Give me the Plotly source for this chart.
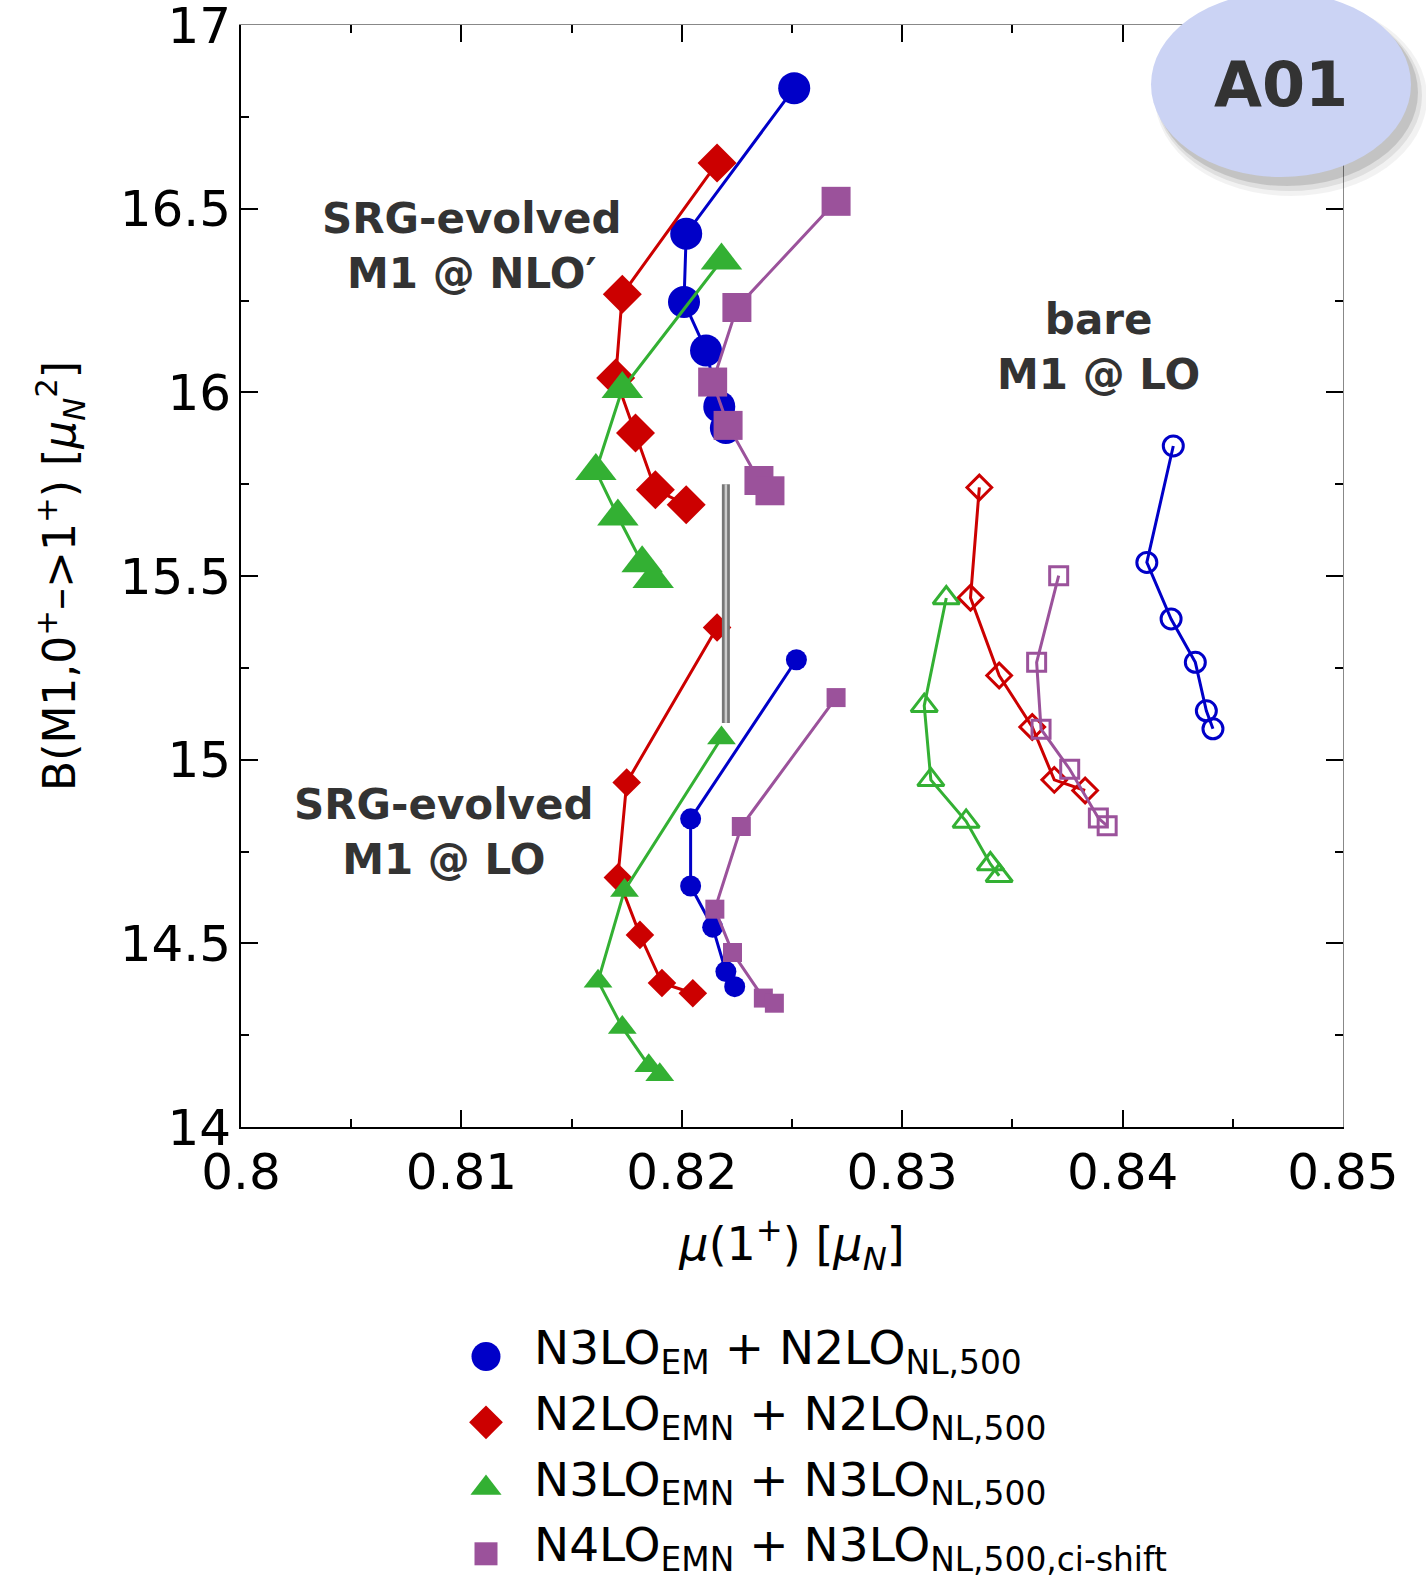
import plotly.graph_objects as go

# ---------------- data ----------------
# SRG-evolved M1 @ NLO' (large filled markers)
nlo_blue_x = [0.8251, 0.8202, 0.8201, 0.8211, 0.8217, 0.8220]
nlo_blue_y = [16.828, 16.432, 16.246, 16.114, 15.961, 15.903]
nlo_red_x = [0.8216, 0.8173, 0.8170, 0.8179, 0.8188, 0.8202]
nlo_red_y = [16.624, 16.267, 16.039, 15.889, 15.735, 15.694]
nlo_green_x = [0.8218, 0.8173, 0.8161, 0.8171, 0.8182, 0.8187]
nlo_green_y = [16.359, 16.009, 15.786, 15.662, 15.535, 15.492]
nlo_purple_x = [0.8270, 0.8225, 0.8214, 0.8221, 0.8235, 0.8240]
nlo_purple_y = [16.520, 16.231, 16.028, 15.910, 15.760, 15.732]

# SRG-evolved M1 @ LO (small filled markers)
lo_blue_x = [0.8252, 0.8204, 0.8204, 0.8214, 0.8220, 0.8224]
lo_blue_y = [15.272, 14.839, 14.656, 14.544, 14.423, 14.382]
lo_red_x = [0.8216, 0.8175, 0.8171, 0.8181, 0.8191, 0.8205]
lo_red_y = [15.360, 14.938, 14.679, 14.523, 14.392, 14.364]
lo_green_x = [0.8218, 0.8174, 0.8162, 0.8173, 0.8185, 0.8190]
lo_green_y = [15.059, 14.644, 14.397, 14.271, 14.167, 14.142]
lo_purple_x = [0.8270, 0.8227, 0.8215, 0.8223, 0.8237, 0.8242]
lo_purple_y = [15.169, 14.818, 14.593, 14.475, 14.351, 14.337]

# bare M1 @ LO (open markers)
bare_blue_x = [0.8423, 0.8411, 0.8422, 0.8433, 0.8438, 0.8441]
bare_blue_y = [15.854, 15.537, 15.383, 15.265, 15.133, 15.084]
bare_red_x = [0.8335, 0.8331, 0.8344, 0.8359, 0.8369, 0.8383]
bare_red_y = [15.741, 15.441, 15.229, 15.089, 14.945, 14.916]
bare_green_x = [0.8320, 0.8310, 0.8313, 0.8329, 0.8340, 0.8344]
bare_green_y = [15.440, 15.147, 14.945, 14.832, 14.716, 14.684]
bare_purple_x = [0.8371, 0.8361, 0.8363, 0.8376, 0.8389, 0.8393]
bare_purple_y = [15.501, 15.265, 15.083, 14.974, 14.841, 14.820]

# grey vertical bar
bar_x = [0.8220, 0.8220]
bar_y = [15.10, 15.75]

legend_labels = [
    "N3LO<sub>EM</sub> + N2LO<sub>NL,500</sub>",
    "N2LO<sub>EMN</sub> + N2LO<sub>NL,500</sub>",
    "N3LO<sub>EMN</sub> + N3LO<sub>NL,500</sub>",
    "N4LO<sub>EMN</sub> + N3LO<sub>NL,500,ci-shift</sub>",
]

# ---------------- layout helpers ----------------
W, H = 1426, 1578
ML, MR, MT, MB = 241, 83, 25, 10
PW = W - ML - MR
PH = H - MT - MB


def fx(px):
    return (px - ML) / PW


def fy(py):
    return (H - MB - py) / PH


FONT = "DejaVu Sans"
BLUE, RED, GREEN, PURPLE = "#0000c8", "#cc0000", "#33b033", "#9b529b"
colors = [BLUE, RED, GREEN, PURPLE]
symbols = ["circle", "diamond", "triangle-up", "square"]

fig = go.Figure()

# bare group (open markers)
bare = [(bare_blue_x, bare_blue_y), (bare_red_x, bare_red_y),
        (bare_green_x, bare_green_y), (bare_purple_x, bare_purple_y)]
bare_sizes = [20, 19, 23, 18]
for (xs, ys), c, s, sz in zip(bare, colors, symbols, bare_sizes):
    fig.add_trace(go.Scatter(
        x=xs, y=ys, mode="lines+markers", showlegend=False,
        line=dict(color=c, width=3),
        marker=dict(symbol=s + "-open", size=sz, color=c,
                    line=dict(color=c, width=3))))

# LO group (small filled)
lo = [(lo_blue_x, lo_blue_y), (lo_red_x, lo_red_y),
      (lo_green_x, lo_green_y), (lo_purple_x, lo_purple_y)]
lo_sizes = [21, 22, 25, 19]
for (xs, ys), c, s, sz in zip(lo, colors, symbols, lo_sizes):
    fig.add_trace(go.Scatter(
        x=xs, y=ys, mode="lines+markers", showlegend=False,
        line=dict(color=c, width=3),
        marker=dict(symbol=s, size=sz, color=c)))

# NLO' group (large filled)
nlo = [(nlo_blue_x, nlo_blue_y), (nlo_red_x, nlo_red_y),
       (nlo_green_x, nlo_green_y), (nlo_purple_x, nlo_purple_y)]
nlo_sizes = [32, 30, 36, 29]
for (xs, ys), c, s, sz in zip(nlo, colors, symbols, nlo_sizes):
    fig.add_trace(go.Scatter(
        x=xs, y=ys, mode="lines+markers", showlegend=False,
        line=dict(color=c, width=3),
        marker=dict(symbol=s, size=sz, color=c)))

# grey bar
fig.add_trace(go.Scatter(x=bar_x, y=bar_y, mode="lines", showlegend=False,
                         line=dict(color="#777777", width=8)))
fig.add_trace(go.Scatter(x=bar_x, y=bar_y, mode="lines", showlegend=False,
                         line=dict(color="#cccccc", width=2.5)))

# empty trace for mirrored (top/right) axes
fig.add_trace(go.Scatter(x=[], y=[], xaxis="x3", yaxis="y3", showlegend=False))

# legend built on its own small axes
leg_sizes = [29, 26, 27, 23]
for lab, c, s, sz in zip(legend_labels, colors, symbols, leg_sizes):
    fig.add_trace(go.Scatter(x=[0], y=[lab], xaxis="x2", yaxis="y2",
                             mode="markers", showlegend=False,
                             marker=dict(symbol=s, size=sz, color=c)))

common = dict(showgrid=False, zeroline=False, ticks="inside", ticklen=17,
              tickwidth=2, tickcolor="black")

fig.update_layout(
    width=W, height=H,
    margin=dict(l=ML, r=MR, t=MT, b=MB, autoexpand=False),
    paper_bgcolor="white", plot_bgcolor="white",
    font=dict(family=FONT, color="black"),
    showlegend=False,
    xaxis=dict(domain=[0, 1], anchor="y", range=[0.8, 0.85], tick0=0.8, dtick=0.01,
               showline=True, linecolor="black", linewidth=2,
               minor=dict(ticks="inside", ticklen=8, tickwidth=2, tickcolor="black", dtick=0.005),
               tickfont=dict(size=50, family=FONT), ticklabeloverflow="allow",
               title=dict(text="<i>μ</i>(1<sup>+</sup>) [<i>μ</i><sub><i>N</i></sub>]",
                          font=dict(size=46, family=FONT), standoff=28),
               **common),
    yaxis=dict(domain=[fy(1127), 1], anchor="x", range=[14, 17], tick0=14, dtick=0.5,
               showline=True, linecolor="black", linewidth=2,
               minor=dict(ticks="inside", ticklen=8, tickwidth=2, tickcolor="black", dtick=0.25),
               tickfont=dict(size=50, family=FONT), ticklabelstandoff=-2,
               ticklabeloverflow="allow",
               title=dict(text="B(M1,0<sup>+</sup>–>1<sup>+</sup>) [<i>μ</i><sub><i>N</i></sub><sup>2</sup>]",
                          font=dict(size=44, family=FONT), standoff=30),
               **common),
    xaxis3=dict(overlaying="x", side="top", anchor="y", range=[0.8, 0.85], tick0=0.8, dtick=0.01,
                showline=True, linecolor="#888888", linewidth=1, showticklabels=False,
                minor=dict(ticks="inside", ticklen=8, tickwidth=2, tickcolor="black", dtick=0.005),
                **common),
    yaxis3=dict(overlaying="y", side="right", anchor="x", range=[14, 17], tick0=14, dtick=0.5,
                showline=True, linecolor="#888888", linewidth=1, showticklabels=False,
                minor=dict(ticks="inside", ticklen=8, tickwidth=2, tickcolor="black", dtick=0.25),
                **common),
    xaxis2=dict(domain=[fx(442), fx(530)], anchor="y2", range=[-1, 1], visible=False),
    yaxis2=dict(domain=[0, fy(1330)], anchor="x2", side="right", type="category",
                categoryarray=legend_labels, categoryorder="array",
                range=[3.216, -0.405], showgrid=False, zeroline=False, showline=False,
                ticks="", tickfont=dict(size=47, family=FONT, color="black"),
                ticklabelstandoff=3, ticklabelshift=9),
)

# annotations
ann_font = dict(family=FONT, size=42, color="#333333")
fig.add_annotation(x=0.8105, y=16.3975, xref="x", yref="y", showarrow=False,
                   text="<b>SRG-evolved<br>M1 @ NLO′</b>", font=ann_font, align="center")
fig.add_annotation(x=0.8389, y=16.124, xref="x", yref="y", showarrow=False,
                   text="<b>bare<br>M1 @ LO</b>", font=ann_font, align="center")
fig.add_annotation(x=0.80923, y=14.802, xref="x", yref="y", showarrow=False,
                   text="<b>SRG-evolved<br>M1 @ LO</b>", font=ann_font, align="center")

# A01 badge with soft shadow
ex0, ex1, ey0, ey1 = 1151, 1411, -8, 177
for dx, dy, grow, col in [(10, 13, 6, "rgba(0,0,0,0.05)"), (8, 11, 3, "rgba(0,0,0,0.08)"),
                          (6, 8, 1, "rgba(0,0,0,0.12)")]:
    fig.add_shape(type="circle", xref="paper", yref="paper",
                  x0=fx(ex0 + dx - grow), x1=fx(ex1 + dx + grow),
                  y0=fy(ey1 + dy + grow), y1=fy(ey0 + dy - grow),
                  fillcolor=col, line=dict(width=0), layer="above")
fig.add_shape(type="circle", xref="paper", yref="paper",
              x0=fx(ex0), x1=fx(ex1), y0=fy(ey1), y1=fy(ey0),
              fillcolor="#cbd3f4", line=dict(width=0), layer="above")
fig.add_annotation(x=fx(1281), y=fy(84), xref="paper", yref="paper", showarrow=False,
                   xanchor="center", yanchor="middle",
                   text="<b>A01</b>", font=dict(family=FONT, size=62, color="#333333"))

fig.write_html("out.html")
